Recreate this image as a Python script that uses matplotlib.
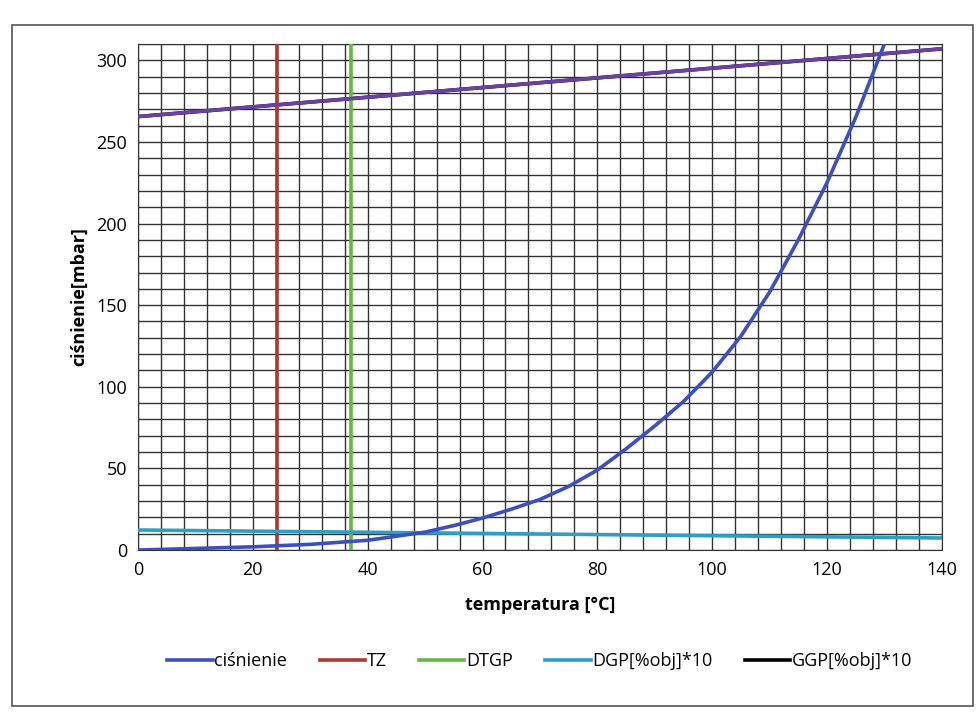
import numpy as np
import matplotlib.pyplot as plt
from matplotlib.ticker import MultipleLocator
from matplotlib.patches import Rectangle

plt.rcParams['font.family'] = ['Open Sans', 'DejaVu Sans']

# ciśnienie (krzywa)
temp = [0, 10, 20, 30, 40, 50, 55, 60, 65, 70, 75, 80, 85, 90, 95,
        100, 105, 110, 115, 120, 125, 130]
cisnienie = [0, 1, 2, 3.5, 6, 11, 15, 19.6, 25, 31, 39, 49, 62, 76, 91,
             109, 131, 158, 190, 225, 265, 310]

tz = 24.2
dtgp = 37.1

dgp_t = [0, 140]
dgp = [12.3, 7.4]

ggp_t = [0, 140]
ggp = [265.5, 307]

fig = plt.figure(figsize=(9.76, 7.2), dpi=100)
ax = fig.add_axes([0.1414, 0.236, 0.8236, 0.703])

ax.plot(temp, cisnienie, color='#3b4fbf', lw=2.6, label='ciśnienie', zorder=5)
ax.plot([tz, tz], [0, 315], color='#b3352f', lw=2.6, label='TZ', zorder=4)
ax.plot([dtgp, dtgp], [0, 315], color='#62b845', lw=2.6, label='DTGP', zorder=4)
ax.plot(dgp_t, dgp, color='#2b9fc6', lw=2.6, label='DGP[%obj]*10', zorder=4)
ax.plot(ggp_t, ggp, color='black', lw=2.6, label='GGP[%obj]*10', zorder=3)
ax.plot(ggp_t, ggp, color='#6b40a3', lw=2.6, zorder=4)

ax.set_xlim(0, 140)
ax.set_ylim(0, 310)
ax.xaxis.set_major_locator(MultipleLocator(20))
ax.yaxis.set_major_locator(MultipleLocator(50))
ax.xaxis.set_minor_locator(MultipleLocator(4))
ax.yaxis.set_minor_locator(MultipleLocator(10))
ax.grid(which='both', color='#333333', lw=1.0)
ax.set_axisbelow(True)
ax.tick_params(which='both', length=0, labelsize=13, pad=8)
for s in ax.spines.values():
    s.set_color('#333333')

ax.set_xlabel('temperatura [°C]', fontsize=13, fontweight='bold', labelpad=12)
ax.set_ylabel('ciśnienie[mbar]', fontsize=13, fontweight='bold', labelpad=6)

ax.legend(loc='upper center', bbox_to_anchor=(0.5, -0.17), ncol=5, frameon=False,
          fontsize=13, handlelength=2.5, handletextpad=0.1, columnspacing=1.8)

fig.patches.append(Rectangle((0.012, 0.02), 0.985, 0.945, transform=fig.transFigure,
                             fill=False, edgecolor='#555555', lw=1.2))

fig.savefig('out.png', dpi=100)
